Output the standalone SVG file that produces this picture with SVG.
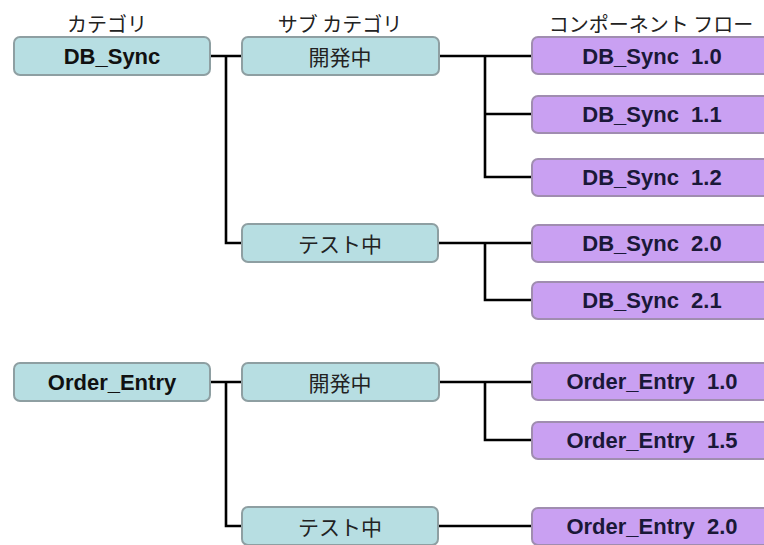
<svg xmlns="http://www.w3.org/2000/svg" width="764" height="545" viewBox="0 0 764 545">
<style>
.cat{fill:#b7dee2;stroke:#8e9fa2;stroke-width:2}
.comp{fill:#c9a0f2;stroke:#a08db0;stroke-width:2}
.lbl{font-family:"Liberation Sans",Arial,sans-serif;font-weight:bold;font-size:22px;text-anchor:middle;dominant-baseline:central;fill:#111}
.clbl{font-family:"Liberation Sans",Arial,sans-serif;font-weight:bold;font-size:22px;text-anchor:middle;dominant-baseline:central;fill:#1a1838;white-space:pre}
.jp{font-family:"Noto Sans CJK JP",sans-serif;font-size:21px;text-anchor:middle;dominant-baseline:central;fill:#222}
.title{font-family:"Noto Sans CJK JP",sans-serif;font-size:20px;text-anchor:middle;fill:#222;white-space:pre}
.conn{fill:none;stroke:#000;stroke-width:2.6}
</style>
<rect width="764" height="545" fill="#fff"/>
<g id="titles">
<text class="title" x="107" y="32">カテゴリ</text>
<text class="title" x="340" y="32">サブ カテゴリ</text>
<text class="title" x="651" y="32">コンポーネント フロー</text>
</g>
<g id="connectors">
<path class="conn" d="M210,56 H242 M226,56 V243 H242"/>
<path class="conn" d="M439,56 H532 M485,56 V177 H532 M485,114 H532"/>
<path class="conn" d="M438,243 H532 M485,243 V300 H532"/>
<path class="conn" d="M210,382 H242 M226,382 V526 H242"/>
<path class="conn" d="M439,382 H532 M485,382 V440 H532"/>
<path class="conn" d="M438,526 H532"/>
</g>
<g id="cat-dbsync"><rect class="cat" x="14" y="37" width="196" height="38" rx="6"/><text class="lbl" x="112" y="56">DB_Sync</text></g>
<g id="sub-dbsync-dev"><rect class="cat" x="242" y="37" width="197" height="38" rx="6"/><text class="jp" x="340" y="56">開発中</text></g>
<g id="sub-dbsync-test"><rect class="cat" x="242" y="224" width="196" height="38" rx="6"/><text class="jp" x="340" y="243">テスト中</text></g>
<g id="comp-dbsync-10"><rect class="comp" x="532" y="37" width="245" height="37" rx="6"/><text class="clbl" x="652" y="56" xml:space="preserve">DB_Sync  1.0</text></g>
<g id="comp-dbsync-11"><rect class="comp" x="532" y="96" width="245" height="37" rx="6"/><text class="clbl" x="652" y="114" xml:space="preserve">DB_Sync  1.1</text></g>
<g id="comp-dbsync-12"><rect class="comp" x="532" y="159" width="245" height="37" rx="6"/><text class="clbl" x="652" y="177" xml:space="preserve">DB_Sync  1.2</text></g>
<g id="comp-dbsync-20"><rect class="comp" x="532" y="225" width="245" height="37" rx="6"/><text class="clbl" x="652" y="243" xml:space="preserve">DB_Sync  2.0</text></g>
<g id="comp-dbsync-21"><rect class="comp" x="532" y="282" width="245" height="37" rx="6"/><text class="clbl" x="652" y="300" xml:space="preserve">DB_Sync  2.1</text></g>
<g id="cat-orderentry"><rect class="cat" x="14" y="363" width="196" height="38" rx="6"/><text class="lbl" x="112" y="382">Order_Entry</text></g>
<g id="sub-orderentry-dev"><rect class="cat" x="242" y="363" width="197" height="38" rx="6"/><text class="jp" x="340" y="382">開発中</text></g>
<g id="sub-orderentry-test"><rect class="cat" x="242" y="507" width="196" height="38" rx="6"/><text class="jp" x="340" y="526">テスト中</text></g>
<g id="comp-orderentry-10"><rect class="comp" x="532" y="363" width="245" height="37" rx="6"/><text class="clbl" x="652" y="381" xml:space="preserve">Order_Entry  1.0</text></g>
<g id="comp-orderentry-15"><rect class="comp" x="532" y="422" width="245" height="37" rx="6"/><text class="clbl" x="652" y="440" xml:space="preserve">Order_Entry  1.5</text></g>
<g id="comp-orderentry-20"><rect class="comp" x="532" y="508" width="245" height="37" rx="6"/><text class="clbl" x="652" y="526" xml:space="preserve">Order_Entry  2.0</text></g>
</svg>
